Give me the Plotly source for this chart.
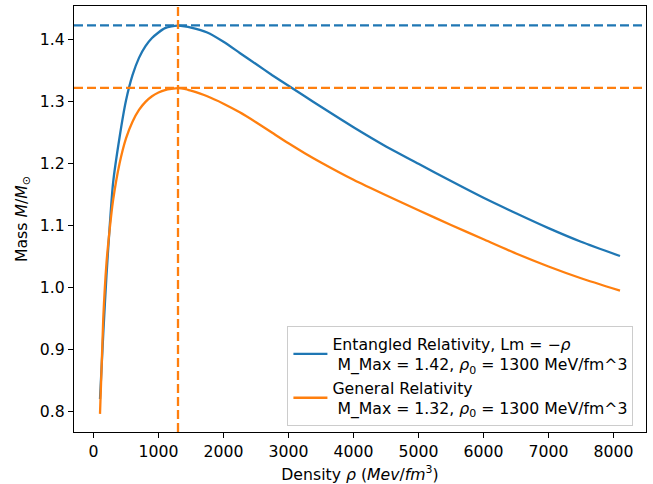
import plotly.graph_objects as go

rho = [100, 150, 200, 250, 300, 400, 500, 600, 700, 800, 900, 1000, 1100, 1200,
       1300, 1400, 1500, 1750, 2000, 2250, 2500, 2750, 3000, 3250, 3500, 4000,
       4500, 5000, 5500, 6000, 6500, 7000, 7500, 8100]

mass_er = [0.820, 0.925, 1.020, 1.100, 1.168, 1.242, 1.302, 1.343, 1.371, 1.390,
           1.403, 1.412, 1.419, 1.422, 1.423, 1.422, 1.420, 1.412, 1.397, 1.379,
           1.361, 1.343, 1.326, 1.309, 1.292, 1.259, 1.228, 1.200, 1.172, 1.145,
           1.120, 1.096, 1.074, 1.051]

mass_gr = [0.796, 0.950, 1.040, 1.095, 1.140, 1.200, 1.241, 1.268, 1.287, 1.300,
           1.309, 1.315, 1.319, 1.321, 1.322, 1.321, 1.318, 1.309, 1.297, 1.283,
           1.267, 1.250, 1.233, 1.217, 1.202, 1.174, 1.149, 1.125, 1.101, 1.078,
           1.055, 1.034, 1.015, 0.995]

m_max_er = 1.4235
m_max_gr = 1.3225
rho0 = 1300

x_ticks = [0, 1000, 2000, 3000, 4000, 5000, 6000, 7000, 8000]
y_ticks = [0.8, 0.9, 1.0, 1.1, 1.2, 1.3, 1.4]

C0 = "#1f77b4"
C1 = "#ff7f0e"
NB = "\u00a0"
FS = 15.7

fig = go.Figure()
fig.add_trace(go.Scatter(
    x=rho, y=mass_er, mode="lines", line=dict(color=C0, width=2.3, shape="spline", smoothing=0.6),
    name="Entangled Relativity, Lm = \u2212<i>\u03c1</i><br>" + NB +
         "M_Max = 1.42, <i>\u03c1</i><sub>0</sub> = 1300 MeV/fm^3"))
fig.add_trace(go.Scatter(
    x=rho, y=mass_gr, mode="lines", line=dict(color=C1, width=2.3, shape="spline", smoothing=0.6),
    name="General Relativity<br>" + NB +
         "M_Max = 1.32, <i>\u03c1</i><sub>0</sub> = 1300 MeV/fm^3"))

dash = "9px,4px"
fig.add_hline(y=m_max_er, line=dict(color=C0, width=2.3, dash=dash))
fig.add_hline(y=m_max_gr, line=dict(color=C1, width=2.3, dash=dash))
fig.add_vline(x=rho0, line=dict(color=C1, width=2.3, dash=dash))

axis_common = dict(showline=True, mirror=True, linecolor="black", linewidth=1.2,
                   ticks="outside", ticklen=5, tickwidth=1.2, tickcolor="black",
                   showgrid=False, zeroline=False, automargin=False,
                   tickfont=dict(size=FS, color="black"))

fig.update_layout(
    width=653, height=484,
    margin=dict(l=74, r=7, t=6, b=52),
    paper_bgcolor="white", plot_bgcolor="white",
    font=dict(family="DejaVu Sans", size=FS, color="black"),
    xaxis=dict(range=[-300, 8500], tickvals=x_ticks,
               title=dict(text="Density <i>\u03c1</i> (<i>Mev</i>/<i>fm</i><sup>3</sup>)",
                          standoff=9, font=dict(size=FS)),
               **axis_common),
    yaxis=dict(range=[0.7667, 1.4548], tickvals=y_ticks,
               tickformat=".1f",
               title=dict(text="Mass <i>M</i>/<i>M</i><sub>\u2299</sub>",
                          standoff=8, font=dict(size=FS)),
               **axis_common),
    legend=dict(x=0.978, y=0.014, xanchor="right", yanchor="bottom",
                bgcolor="white", bordercolor="#cccccc", borderwidth=1,
                font=dict(size=FS), itemwidth=34, tracegroupgap=2),
    showlegend=True,
)

fig.write_html("out.html",
               config={"displayModeBar": False},
               post_script="document.body.style.margin='0';"
                           "document.body.style.overflow='hidden';")
